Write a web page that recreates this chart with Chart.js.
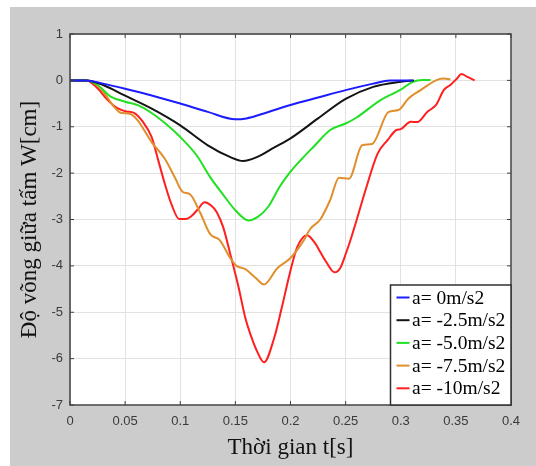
<!DOCTYPE html>
<html>
<head>
<meta charset="utf-8">
<script src="https://cdn.jsdelivr.net/npm/chart.js@4/dist/chart.umd.min.js"></script>
<style>
  html, body { margin: 0; padding: 0; background: #ffffff; }
  #wrap { width: 536px; height: 466px; }
</style>
</head>
<body>
<div id="wrap"><canvas id="c" width="536" height="466"></canvas></div>
<script>
// ---- Data ----
const seriesLabels = ["a= 0m/s2", "a= -2.5m/s2", "a= -5.0m/s2", "a= -7.5m/s2", "a= -10m/s2"];
const seriesColors = ["#1c1cff", "#141414", "#22e022", "#e08f2c", "#ff1f1f"];

const tA0 = [0, 0.015, 0.03, 0.05, 0.075, 0.1, 0.125, 0.15, 0.16, 0.175, 0.2, 0.225, 0.25, 0.275, 0.29, 0.311];
const wA0 = [0, 0, -0.07, -0.18, -0.33, -0.5, -0.68, -0.84, -0.82, -0.72, -0.53, -0.37, -0.21, -0.07, 0, 0];

const tA25 = [0, 0.015, 0.03, 0.05, 0.075, 0.1, 0.125, 0.145, 0.157, 0.17, 0.185, 0.2, 0.225, 0.25, 0.275, 0.3, 0.312];
const wA25 = [0, 0, -0.1, -0.33, -0.62, -0.97, -1.4, -1.65, -1.74, -1.65, -1.45, -1.25, -0.82, -0.4, -0.14, -0.03, 0];

const tA50 = [0, 0.015, 0.025, 0.037, 0.05, 0.062, 0.075, 0.09, 0.1, 0.115, 0.127, 0.14, 0.15, 0.162, 0.17, 0.18, 0.19, 0.2, 0.21, 0.221, 0.236, 0.25, 0.26, 0.282, 0.3, 0.311, 0.32, 0.327];
const wA50 = [0, 0, -0.1, -0.35, -0.46, -0.54, -0.72, -1.0, -1.22, -1.62, -2.08, -2.5, -2.8, -3.02, -2.95, -2.72, -2.3, -1.97, -1.7, -1.43, -1.07, -0.93, -0.8, -0.42, -0.2, -0.03, 0.01, 0.01];

const tA75 = [0, 0.015, 0.022, 0.03, 0.04, 0.046, 0.054, 0.061, 0.074, 0.086, 0.095, 0.102, 0.109, 0.118, 0.127, 0.136, 0.145, 0.151, 0.159, 0.168, 0.176, 0.188, 0.2, 0.212, 0.218, 0.227, 0.236, 0.244, 0.253, 0.265, 0.274, 0.289, 0.298, 0.307, 0.318, 0.333, 0.339, 0.345];
const wA75 = [0, 0, -0.05, -0.24, -0.57, -0.7, -0.72, -0.85, -1.33, -1.69, -2.09, -2.4, -2.46, -2.85, -3.31, -3.45, -3.82, -4.0, -4.07, -4.25, -4.4, -4.05, -3.83, -3.45, -3.2, -3.0, -2.58, -2.1, -2.12, -1.4, -1.37, -0.68, -0.64, -0.39, -0.21, 0.01, 0.04, 0.02];

const tA10 = [0, 0.015, 0.025, 0.034, 0.043, 0.051, 0.058, 0.066, 0.074, 0.08, 0.086, 0.092, 0.099, 0.105, 0.11, 0.116, 0.122, 0.128, 0.133, 0.139, 0.145, 0.153, 0.159, 0.164, 0.17, 0.176, 0.185, 0.192, 0.2, 0.206, 0.215, 0.222, 0.227, 0.232, 0.24, 0.245, 0.25, 0.255, 0.26, 0.268, 0.279, 0.288, 0.296, 0.3, 0.309, 0.315, 0.324, 0.332, 0.339, 0.345, 0.351, 0.355, 0.36, 0.367];
const wA10 = [0, 0, -0.17, -0.42, -0.6, -0.67, -0.7, -0.89, -1.22, -1.72, -2.23, -2.67, -2.99, -2.99, -2.93, -2.78, -2.63, -2.7, -2.84, -3.17, -3.71, -4.47, -5.12, -5.5, -5.86, -6.08, -5.57, -4.91, -4.1, -3.6, -3.34, -3.5, -3.7, -3.9, -4.14, -4.05, -3.75, -3.4, -3.01, -2.37, -1.58, -1.29, -1.07, -1.05, -0.89, -0.9, -0.68, -0.53, -0.21, -0.1, 0.04, 0.14, 0.08, 0];

const xTitle = "Thời gian t[s]";
const yTitle = "Độ võng giữa tấm W[cm]";
const xMin = 0, xMax = 0.4, xStep = 0.05;
const yMin = -7, yMax = 1, yStep = 1;

// ---- Build datasets ----
const tList = [tA0, tA25, tA50, tA75, tA10];
const wList = [wA0, wA25, wA50, wA75, wA10];
const datasets = tList.map((ts, i) => ({
  label: seriesLabels[i],
  data: ts.map((t, k) => ({ x: t, y: wList[i][k] })),
  borderColor: seriesColors[i],
  backgroundColor: seriesColors[i],
  borderWidth: 2,
  pointRadius: 0,
  fill: false,
  cubicInterpolationMode: 'monotone'
}));

const PLOT = { left: 70, top: 34, right: 511, bottom: 405 };

const framePlugin = {
  id: 'frame',
  beforeDraw(chart) {
    const ctx = chart.ctx;
    const a = chart.chartArea;
    ctx.save();
    ctx.fillStyle = '#ffffff';
    ctx.fillRect(0, 0, chart.width, chart.height);
    ctx.fillStyle = '#cccccc';
    ctx.fillRect(10, 7, chart.width - 10, chart.height - 7);
    ctx.fillStyle = '#ffffff';
    ctx.fillRect(a.left, a.top, a.right - a.left, a.bottom - a.top);
    ctx.restore();
  },
  afterDatasetsDraw(chart) {
    const ctx = chart.ctx;
    const a = chart.chartArea;
    const xs = chart.scales.x, ys = chart.scales.y;
    ctx.save();
    ctx.strokeStyle = '#404040';
    ctx.lineWidth = 1.5;
    ctx.strokeRect(a.left, a.top, a.right - a.left, a.bottom - a.top);
    ctx.lineWidth = 1;
    const L = 4;
    ctx.beginPath();
    xs.ticks.forEach(tk => {
      const px = xs.getPixelForValue(tk.value);
      ctx.moveTo(px, a.bottom); ctx.lineTo(px, a.bottom - L);
      ctx.moveTo(px, a.top); ctx.lineTo(px, a.top + L);
    });
    ys.ticks.forEach(tk => {
      const py = ys.getPixelForValue(tk.value);
      ctx.moveTo(a.left, py); ctx.lineTo(a.left + L, py);
      ctx.moveTo(a.right, py); ctx.lineTo(a.right - L, py);
    });
    ctx.stroke();

    // legend box (inside plot, lower right)
    const bx = 390.5, by = 285, bw = a.right - 390.5, bh = a.bottom - 285;
    ctx.fillStyle = '#ffffff';
    ctx.fillRect(bx, by, bw, bh);
    ctx.strokeStyle = '#303030';
    ctx.lineWidth = 1.5;
    ctx.strokeRect(bx, by, bw, bh);
    ctx.font = '19.5px "Liberation Serif", "Times New Roman", serif';
    ctx.textBaseline = 'middle';
    ctx.textAlign = 'left';
    chart.data.datasets.forEach((ds, i) => {
      const cy = 297.5 + i * 22.7;
      ctx.strokeStyle = ds.borderColor;
      ctx.lineWidth = 2;
      ctx.beginPath();
      ctx.moveTo(bx + 6, cy);
      ctx.lineTo(bx + 19, cy);
      ctx.stroke();
      ctx.fillStyle = '#000000';
      ctx.fillText(ds.label, bx + 21.5, cy + 1);
    });
    ctx.restore();
  }
};

new Chart(document.getElementById('c'), {
  type: 'line',
  data: { datasets },
  options: {
    responsive: false,
    animation: false,
    devicePixelRatio: 1,
    layout: { padding: { left: 0, top: PLOT.top, right: 536 - PLOT.right, bottom: 0 } },
    plugins: { legend: { display: false }, tooltip: { enabled: false } },
    scales: {
      x: {
        type: 'linear',
        min: xMin, max: xMax,
        afterFit(s) { s.height = 466 - PLOT.bottom; },
        ticks: {
          stepSize: xStep,
          padding: 9,
          color: '#3a3a3a',
          font: { family: '"Liberation Sans", Arial, sans-serif', size: 13 },
          maxRotation: 0,
          autoSkip: false,
          callback: (v) => String(Number(Number(v).toFixed(2)))
        },
        grid: { color: '#e2e2e2', lineWidth: 1, drawTicks: false },
        border: { display: false },
        title: {
          display: true,
          text: xTitle,
          color: '#111111',
          font: { family: '"Liberation Serif", "Times New Roman", serif', size: 23 },
          padding: { top: 0, bottom: 4 }
        }
      },
      y: {
        type: 'linear',
        min: yMin, max: yMax,
        afterFit(s) { s.width = PLOT.left; },
        ticks: {
          stepSize: yStep,
          padding: 7,
          color: '#3a3a3a',
          font: { family: '"Liberation Sans", Arial, sans-serif', size: 13 }
        },
        grid: { color: '#e2e2e2', lineWidth: 1, drawTicks: false },
        border: { display: false },
        title: {
          display: true,
          text: yTitle,
          color: '#111111',
          font: { family: '"Liberation Serif", "Times New Roman", serif', size: 23 },
          padding: { top: 16, bottom: 0 }
        }
      }
    }
  },
  plugins: [framePlugin]
});
</script>
</body>
</html>
